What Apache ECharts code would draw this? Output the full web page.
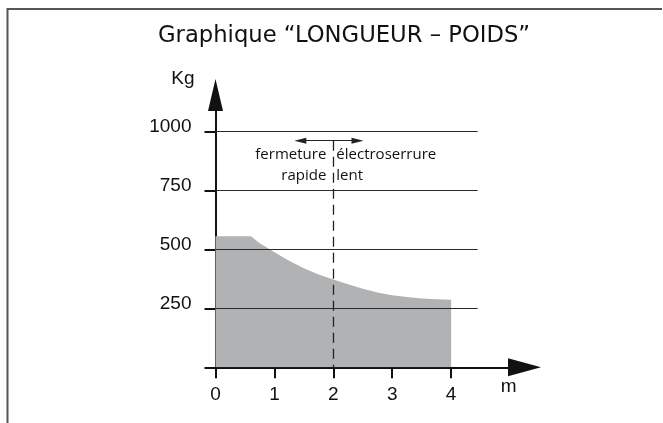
<!DOCTYPE html>
<html>
<head>
<meta charset="utf-8">
<script src="https://cdn.jsdelivr.net/npm/echarts@6/dist/echarts.min.js"></script>
<style>html,body{margin:0;padding:0;background:#fff;}#c{width:663px;height:423px;}</style>
</head>
<body>
<div id="c"></div>
<script>
// ---- data ----
const titleText = 'Graphique \u201CLONGUEUR \u2013 POIDS\u201D';
const xTickValues = [0, 1, 2, 3, 4];
const yTickValues = [250, 500, 750, 1000];
const yTickMarks = [0, 250, 500, 750, 1000];
const curveX = [0, 0.6, 0.75, 0.93, 1, 1.25, 1.5, 1.75, 2, 2.25, 2.5, 2.75, 3, 3.25, 3.5, 3.75, 4];
const curveY = [556, 556, 527, 500, 488, 452, 420, 394, 373, 353, 334, 318, 306, 298, 292, 289, 287];
const splitX = 2;               // border between the two lock types (m)
const annotLeft = ['fermeture', 'rapide'];
const annotRight = ['\u00E9lectroserrure', 'lent'];
const xName = 'm';
const yName = 'Kg';

// ---- layout / style constants ----
const xMax = 5.245, yMax = 1156, gridEnd = 4.45, arrowY = 962, textY = 858;

const chart = echarts.init(document.getElementById('c'), null, {renderer: 'canvas'});
const axisColor = '#111';
const labelFont = {fontFamily: '"Liberation Sans", Arial, sans-serif', fontSize: 19, color: '#111'};
const annotFont = {fontFamily: '"Open Sans", "Noto Sans", sans-serif', fontSize: 15, color: '#111'};

const gridLines = yTickValues.map(v => [
  {coord: [0, v]}, {coord: [gridEnd, v]}
]);

chart.setOption({
  animation: false,
  title: {
    text: titleText,
    left: 153, top: 20,
    textStyle: {fontFamily: '"DejaVu Sans", sans-serif', fontSize: 22.7, fontWeight: 'normal', color: '#111'}
  },
  graphic: [{
    type: 'polyline',
    shape: {points: [[662, 9], [7.5, 9], [7.5, 423]]},
    style: {stroke: '#555', lineWidth: 2, fill: null}
  }],
  grid: {left: 215.5, top: 95, right: 138.5, bottom: 55.7},
  xAxis: {
    type: 'value', min: 0, max: xMax, interval: 1,
    name: xName, nameLocation: 'end', nameGap: 0,
    nameTextStyle: {...labelFont, align: 'right', verticalAlign: 'top', padding: [10, 8, 0, 0]},
    axisLine: {show: true, onZero: true, symbol: ['none', 'triangle'], symbolSize: [18, 33],
      lineStyle: {color: axisColor, width: 2}},
    axisTick: {show: true, customValues: xTickValues, length: 11, lineStyle: {color: axisColor, width: 2}},
    axisLabel: {customValues: xTickValues, margin: 18, formatter: v => String(v), ...labelFont},
    splitLine: {show: false}
  },
  yAxis: {
    type: 'value', min: 0, max: yMax, interval: 250,
    name: yName, nameLocation: 'end', nameGap: 7,
    nameTextStyle: {...labelFont, align: 'right', verticalAlign: 'bottom', padding: [0, 21, 0, 0]},
    axisLine: {show: true, symbol: ['none', 'triangle'], symbolSize: [15, 32],
      lineStyle: {color: axisColor, width: 2}},
    axisTick: {show: true, customValues: yTickMarks, length: 11, lineStyle: {color: axisColor, width: 2}},
    axisLabel: {customValues: yTickValues, margin: 24, verticalAlign: 'bottom', lineHeight: 10,
      formatter: v => String(v), ...labelFont},
    splitLine: {show: false}
  },
  series: [{
    type: 'line',
    data: curveX.map((x, i) => [x, curveY[i]]),
    symbol: 'none',
    lineStyle: {width: 0},
    areaStyle: {color: '#b1b2b4', opacity: 1},
    z: 1,
    markLine: {
      silent: true,
      symbol: ['none', 'none'],
      label: {show: false},
      lineStyle: {color: '#2a2a2a', width: 1, type: 'solid'},
      data: gridLines.concat([
        [{coord: [splitX, arrowY], lineStyle: {color: '#222', width: 1.3, type: [10, 6]}},
         {coord: [splitX, 0]}],
        [{coord: [splitX - 0.56, arrowY], symbol: 'triangle', symbolSize: [6, 12], lineStyle: {color: '#222', width: 1}},
         {coord: [splitX + 0.41, arrowY], symbol: 'triangle', symbolSize: [6, 12]}]
      ])
    },
    markPoint: {
      silent: true,
      symbol: 'circle', symbolSize: 0,
      data: [
        {coord: [splitX, textY], label: {show: true, position: 'left', distance: 7, formatter: annotLeft.join('\n'),
          align: 'right', lineHeight: 21, ...annotFont}},
        {coord: [splitX, textY], label: {show: true, position: 'right', distance: 3, formatter: annotRight.join('\n'),
          align: 'left', lineHeight: 21, ...annotFont}}
      ]
    }
  }]
});
</script>
</body>
</html>
